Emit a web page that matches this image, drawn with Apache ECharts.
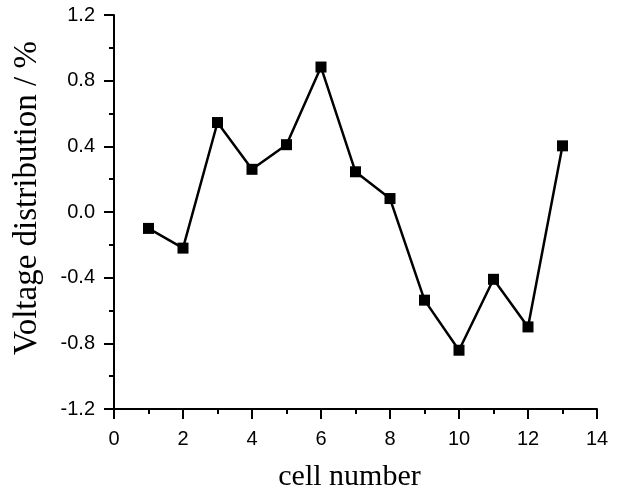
<!DOCTYPE html>
<html>
<head>
<meta charset="utf-8">
<script src="https://cdn.jsdelivr.net/npm/echarts@6/dist/echarts.min.js"></script>
<style>
  html, body { margin: 0; padding: 0; background: #fff; }
  #chart { width: 618px; height: 488px; }
</style>
</head>
<body>
<div id="chart"></div>
<script>
// cell index and voltage deviation
const cells = [1, 2, 3, 4, 5, 6, 7, 8, 9, 10, 11, 12, 13];
const voltage = [-0.10, -0.22, 0.545, 0.26, 0.41, 0.883, 0.245, 0.082, -0.537, -0.842, -0.41, -0.70, 0.403];

let chart = echarts.init(document.getElementById('chart'));

let axisCommon = {
    axisLine: {show: true, onZero: false, lineStyle: {color: '#000', width: 2}},
    axisTick: {show: true, inside: false, length: 10, lineStyle: {color: '#000', width: 2}},
    minorTick: {show: true, splitNumber: 2, length: 5, lineStyle: {color: '#000', width: 2}},
    splitLine: {show: false},
    axisLabel: {color: '#000', fontFamily: 'Liberation Sans', fontSize: 20}
};

let option = {
    backgroundColor: '#fff',
    animation: false,
    grid: {left: 114, right: 21, top: 15, bottom: 79, containLabel: false, outerBoundsMode: 'none'},
    xAxis: Object.assign({}, axisCommon, {
        type: 'value',
        min: 0, max: 14, interval: 2,
        name: 'cell number',
        nameLocation: 'middle',
        nameGap: 53,
        nameTextStyle: {color: '#000', fontFamily: 'Liberation Serif', fontSize: 30, padding: [0, 12, 0, 0]},
        axisLabel: Object.assign({}, axisCommon.axisLabel, {margin: 20})
    }),
    yAxis: Object.assign({}, axisCommon, {
        type: 'value',
        min: -1.2, max: 1.2, interval: 0.4,
        name: 'Voltage distribution / %',
        nameLocation: 'middle',
        nameGap: 70,
        nameTextStyle: {color: '#000', fontFamily: 'Liberation Serif', fontSize: 33, padding: [0, 0, 0, 28]},
        axisLabel: Object.assign({}, axisCommon.axisLabel, {
            margin: 19,
            formatter: v => v.toFixed(1)
        })
    }),
    series: [{
        type: 'line',
        data: cells.map((c, i) => [c, voltage[i]]),
        symbol: 'rect',
        symbolSize: 11,
        lineStyle: {color: '#000', width: 2.5},
        itemStyle: {color: '#000'}
    }]
};

chart.setOption(option);
</script>
</body>
</html>
